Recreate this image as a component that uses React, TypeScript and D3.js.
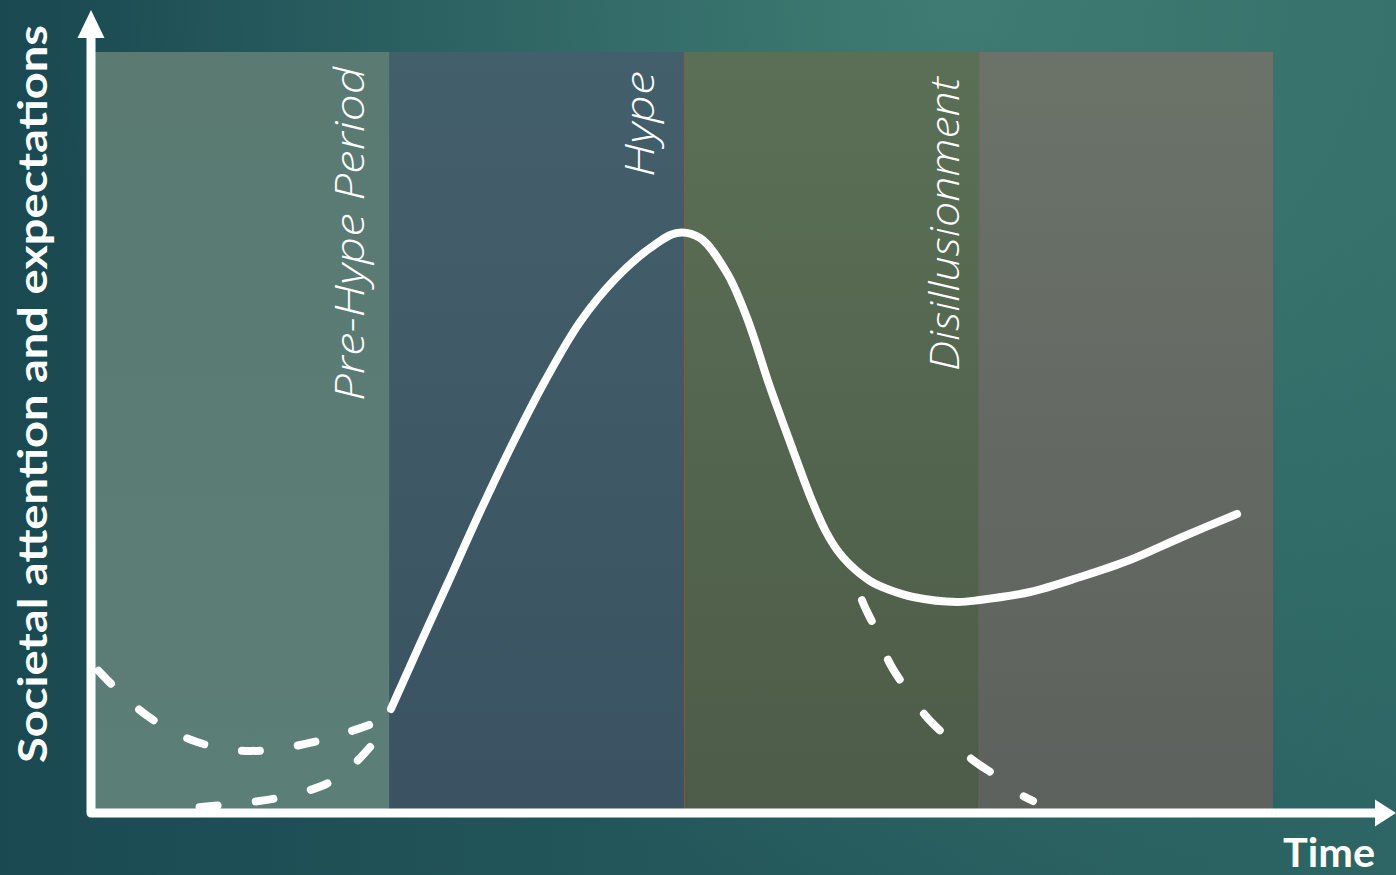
import React, { useEffect } from "react";
import * as d3 from "d3";

const W = 1396;
const H = 875;

// Phase bands along the time axis (time units 0..40, ten per phase)
const phaseStarts = [0, 10, 20, 30];
const phaseEnds = [10, 20, 30, 40];
const phaseLabels = ["Pre-Hype Period", "Hype", "Disillusionment", null];

// Main attention curve: [time, attention]
const hypeTime = [
  10.05, 11.04, 11.95, 13.07, 14.19, 15.28, 16.47, 17.66, 18.85, 19.76,
  20.54, 21.46, 22.14, 22.92, 23.6, 24.28, 24.79, 25.2, 25.64, 26.32,
  26.99, 27.78, 29.27, 30.05, 31.75, 33.45, 35.14, 36.84, 38.78,
];
const hypeValue = [
  13.67, 22.21, 29.96, 39.55, 48.62, 56.77, 64.52, 70.17, 74.24, 76.22,
  75.56, 70.96, 65.05, 55.98, 48.75, 41.66, 37.19, 34.56, 32.59, 30.49,
  29.3, 28.38, 27.73, 27.99, 29.04, 31.01, 33.25, 36.14, 39.29,
];

// Alternative pre-hype path that dips then recovers
const dipTime = [0, 1.39, 3.02, 5.26, 7.57, 9.68];
const dipValue = [19.19, 13.93, 9.99, 8.15, 9.46, 12.1];

// Alternative pre-hype path that rises from near zero
const riseTime = [3.23, 4.31, 5.33, 6.21, 7.2, 7.98, 8.83, 9.34];
const riseValue = [0.66, 1.05, 1.45, 1.97, 2.89, 4.07, 6.57, 8.67];

// Alternative collapse after the peak
const collapseTime = [25.64, 26.04, 26.49, 26.93, 27.5, 28.18, 28.93, 29.81, 30.66, 31.58, 31.85];
const collapseValue = [32.85, 27.99, 24.3, 20.1, 16.56, 12.88, 9.99, 6.96, 4.73, 2.1, 1.58];

const yTitle = "Societal attention and expectations";
const xTitle = "Time";

const zip = (a: number[], b: number[]) => a.map((t, i) => [t, b[i]] as [number, number]);

const bandFill = [
  ["#5a7a72", "#5b7e77"],
  ["#445f6c", "#3a5261"],
  ["#5b6f56", "#4d5c48"],
  ["#6b7369", "#5d615d"],
];
const labelInset = [26, 30, 20];
const labelBase = [401, 177, 371];
const labelLength = [334, 106, 294];

export default function App() {
  useEffect(() => {
    document.body.style.margin = "0";
  }, []);

  const x = d3.scaleLinear().domain([0, 40]).range([95, 1273]);
  const y = d3.scaleLinear().domain([0, 100]).range([813, 52]);

  const catmull = d3
    .line<[number, number]>()
    .x((d) => x(d[0]))
    .y((d) => y(d[1]))
    .curve(d3.curveCatmullRom.alpha(0.5));
  const monotone = d3
    .line<[number, number]>()
    .x((d) => x(d[0]))
    .y((d) => y(d[1]))
    .curve(d3.curveMonotoneX);

  const mainPath = catmull(zip(hypeTime, hypeValue)) || "";
  const dipPath = monotone(zip(dipTime, dipValue)) || "";
  // drawn from the upper end so the dash pattern starts there
  const risePath = catmull(zip(riseTime, riseValue).reverse()) || "";
  const collapsePath = monotone(zip(collapseTime, collapseValue)) || "";

  const axX = x(0) - 4;
  const axY = y(0);
  const top = y(100);

  return (
    <svg
      width={W}
      height={H}
      viewBox={`0 0 ${W} ${H}`}
      style={{ position: "absolute", left: 0, top: 0, display: "block" }}
    >
      <defs>
        <linearGradient id="bgBase" x1="0" y1="0" x2={W} y2="0" gradientUnits="userSpaceOnUse">
          <stop offset="0" stopColor="#1a4952" />
          <stop offset="1" stopColor="#2d6664" />
        </linearGradient>
        <radialGradient id="bgGlow" cx="950" cy="0" r="900" gradientUnits="userSpaceOnUse">
          <stop offset="0" stopColor="#4f9080" stopOpacity="0.6" />
          <stop offset="1" stopColor="#4f9080" stopOpacity="0" />
        </radialGradient>
        {bandFill.map((c, i) => (
          <linearGradient key={i} id={`band${i}`} x1="0" y1="0" x2="0" y2="1">
            <stop offset="0" stopColor={c[0]} />
            <stop offset="1" stopColor={c[1]} />
          </linearGradient>
        ))}
      </defs>

      <rect x={0} y={0} width={W} height={H} fill="url(#bgBase)" />
      <rect x={0} y={0} width={W} height={H} fill="url(#bgGlow)" />

      {phaseStarts.map((s, i) => (
        <rect
          key={i}
          x={x(s)}
          y={top}
          width={x(phaseEnds[i]) - x(s)}
          height={axY - top}
          fill={`url(#band${i})`}
        />
      ))}
      {[20, 30].map((s) => (
        <line key={s} x1={x(s) + 0.5} x2={x(s) + 0.5} y1={top} y2={axY} stroke="#7e5e4e" strokeWidth={1} opacity={0.7} />
      ))}

      {phaseLabels.map((lab, i) =>
        lab ? (
          <text
            key={i}
            transform={`translate(${x(phaseEnds[i]) - labelInset[i]},${labelBase[i]}) rotate(-90)`}
            fontFamily="'Open Sans', Lato, sans-serif"
            fontStyle="italic"
            fontWeight={300}
            fontSize={40}
            fill="#ffffff"
            textLength={labelLength[i]}
            lengthAdjust="spacingAndGlyphs"
          >
            {lab}
          </text>
        ) : null
      )}

      <g fill="none" stroke="#ffffff" strokeLinecap="round" strokeWidth={8}>
        <path d={dipPath} strokeDasharray="18 38.3" strokeDashoffset={-5} />
        <path d={risePath} strokeDasharray="18 38.3" />
        <path d={collapsePath} strokeDasharray="23 42" strokeDashoffset={-39} />
        <path d={mainPath} />
      </g>

      <path
        d={`M${axX},${top - 15} L${axX},${axY} L${W - 21},${axY}`}
        fill="none"
        stroke="#ffffff"
        strokeWidth={9}
        strokeLinejoin="round"
      />
      <polygon points={`${axX - 13.5},${top - 14} ${axX + 13.5},${top - 14} ${axX},10`} fill="#ffffff" />
      <polygon points={`${W - 21},${axY - 13.5} ${W - 21},${axY + 13.5} ${W},${axY}`} fill="#ffffff" />

      <text
        transform={`translate(47,763) rotate(-90)`}
        fontFamily="Lato, 'Open Sans', sans-serif"
        fontWeight={700}
        fontSize={40}
        fill="#ffffff"
        textLength={738}
        lengthAdjust="spacingAndGlyphs"
      >
        {yTitle}
      </text>
      <text
        x={1283}
        y={867}
        fontFamily="Lato, 'Open Sans', sans-serif"
        fontWeight={700}
        fontSize={40}
        fill="#ffffff"
        textLength={92}
        lengthAdjust="spacingAndGlyphs"
      >
        {xTitle}
      </text>
    </svg>
  );
}
